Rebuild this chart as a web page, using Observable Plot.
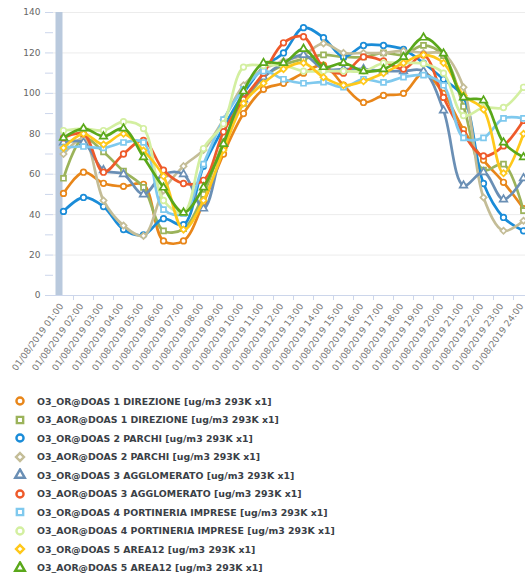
<!DOCTYPE html>
<html><head><meta charset="utf-8">
<script src="https://cdn.jsdelivr.net/npm/d3@7"></script>
<script src="https://cdn.jsdelivr.net/npm/@observablehq/plot@0.6"></script>
<style>
body{margin:0;background:#fff;overflow:hidden;font-family:"DejaVu Sans",Verdana,sans-serif}
#legend{padding-top:2px}
.item{position:relative;height:18.5px;display:flex;align-items:center}
.item svg{position:absolute;left:13px;top:2.25px}
.item span{position:absolute;left:37px;font-weight:bold;font-size:9.4px;color:#3a4046;white-space:nowrap}
</style></head>
<body><div id="chart"></div><div id="legend"></div>
<script>
const hours = ["01/08/2019 01:00","01/08/2019 02:00","01/08/2019 03:00","01/08/2019 04:00","01/08/2019 05:00","01/08/2019 06:00","01/08/2019 07:00","01/08/2019 08:00","01/08/2019 09:00","01/08/2019 10:00","01/08/2019 11:00","01/08/2019 12:00","01/08/2019 13:00","01/08/2019 14:00","01/08/2019 15:00","01/08/2019 16:00","01/08/2019 17:00","01/08/2019 18:00","01/08/2019 19:00","01/08/2019 20:00","01/08/2019 21:00","01/08/2019 22:00","01/08/2019 23:00","01/08/2019 24:00"];

const names = [
  "O3_OR@DOAS 1 DIREZIONE [ug/m3 293K x1]",
  "O3_AOR@DOAS 1 DIREZIONE [ug/m3 293K x1]",
  "O3_OR@DOAS 2 PARCHI [ug/m3 293K x1]",
  "O3_AOR@DOAS 2 PARCHI [ug/m3 293K x1]",
  "O3_OR@DOAS 3 AGGLOMERATO [ug/m3 293K x1]",
  "O3_AOR@DOAS 3 AGGLOMERATO [ug/m3 293K x1]",
  "O3_OR@DOAS 4 PORTINERIA IMPRESE [ug/m3 293K x1]",
  "O3_AOR@DOAS 4 PORTINERIA IMPRESE [ug/m3 293K x1]",
  "O3_OR@DOAS 5 AREA12 [ug/m3 293K x1]",
  "O3_AOR@DOAS 5 AREA12 [ug/m3 293K x1]"
];
const colors = ["#e8861a","#9bb35a","#1a8cd8","#c4bd97","#6a8fb5","#ee5a2a","#7fc9ee","#d3efa0","#ffc81a","#5aa81a"];
const symbols = ["circle","square","circle","diamond2","triangle","circle","square","circle","diamond2","triangle"];

const or1  = [50.5,61,55.5,54,55,27,27,46,70,90,102,105,110,114,104,95.5,99,100,110,100,82,67,56,43];
const aor1 = [58,78,71,61.5,53.5,32,33,50,76,95,108,114,117,119,118,118,120,119,123.7,118.7,93.5,62,65,42];
const or2  = [41.6,48.5,44,32.6,30,38,35,64,83,100,113,120,132.5,127.5,118,123.7,123.7,121.7,115,107,98,55.4,38.6,32];
const aor2 = [70,77.5,47,34.6,29.5,52,64,72,87,104,112,116,119,124.7,120,120,120,121,120,119.5,103,48.5,32,37];
const or3  = [75.7,75.7,62,60,50,60,60,43,75,97,108,115,119,112,112,112,111,111,111,91.5,54.4,61,47.5,58];
const aor3 = [78,80,61,70,76.7,62,55.4,57,81,97,110,125,128,113,110,118,116,112,119,98,80,69,74,86.6];
const or4  = [73,73.7,73,75.7,75.7,42.5,40.5,65,87,102,111,107,105,105.5,103,107,105.4,108,109,104,78,78,87.6,87.6];
const aor4 = [81.6,82.6,81.6,86,82.6,47,41,72.7,85,113,113.8,113.8,111,111,111,111,115,115,114.7,110,89,93,93,103];
const or5  = [73,80,74.7,80,71.7,59,32.6,47,72,95,105,112,115,108,104,106,110,115,119,115,99,92,60.5,80];
const aor5 = [78,82.6,78.7,82.6,68.4,53.4,41,53.5,75,101,115,115,122,113,115,111,112,118,127.6,119.7,98,96.5,75.7,68.4];
const seriesValues = [or1, aor1, or2, aor2, or3, aor3, or4, aor4, or5, aor5];

const yTicks = [0,10,20,30,40,50,60,70,80,90,100,110,120,130,140];
const yGrid = [20,40,60,80,100,120,140];

const marks = [
  Plot.gridY(yGrid, {stroke: "#ececec", strokeOpacity: 1}),
  Plot.ruleX([hours[0]], {y1: 0, y2: 140, dx: -4.5, stroke: "#b9c9dd", strokeWidth: 7}),
  Plot.ruleY([0], {stroke: "#ccd6eb"}),
  Plot.axisY(yTicks, {tickSize: 8, tickPadding: 5, tickFormat: d => d % 20 ? "" : d, stroke: "#ccd6eb", fill: "#666", label: null}),
  Plot.axisX({tickSize: 5, tickFormat: () => "", dx: 10, stroke: "#ccd6eb", label: null}),
  Plot.axisX({tickSize: 0, tickPadding: 9, tickRotate: -54, dx: -2, fill: "#777", label: null})
];
seriesValues.forEach((vals, k) => {
  const d = vals.map((v, i) => ({hour: hours[i], value: v}));
  marks.push(Plot.line(d, {x: "hour", y: "value", stroke: colors[k], strokeWidth: 2.7, curve: "catmull-rom"}));
  marks.push(Plot.dot(d, {x: "hour", y: "value", symbol: symbols[k], r: 2.8, fill: "white", stroke: colors[k], strokeWidth: 1.7}));
});

const chart = Plot.plot({
  width: 525, height: 390,
  marginLeft: 53, marginRight: 0, marginTop: 12, marginBottom: 95,
  x: {type: "point", domain: hours, range: [61, 525], padding: 0},
  y: {domain: [0, 140]},
  style: {fontFamily: "DejaVu Sans, Verdana, sans-serif", fontSize: "9px", background: "white", overflow: "hidden"},
  marks
});
document.getElementById("chart").appendChild(chart);

const symMap = {circle: d3.symbolCircle, square: d3.symbolSquare, diamond2: d3.symbolDiamond2, triangle: d3.symbolTriangle};
const legend = d3.select("#legend");
names.forEach((n, k) => {
  const it = legend.append("div").attr("class", "item");
  const svg = it.append("svg").attr("width", 14).attr("height", 14);
  svg.append("path").attr("transform", "translate(7,7)")
    .attr("d", d3.symbol(symMap[symbols[k]], 40)())
    .attr("fill", "white").attr("stroke", colors[k]).attr("stroke-width", 2.4);
  it.append("span").text(n);
});
</script>
</body></html>
